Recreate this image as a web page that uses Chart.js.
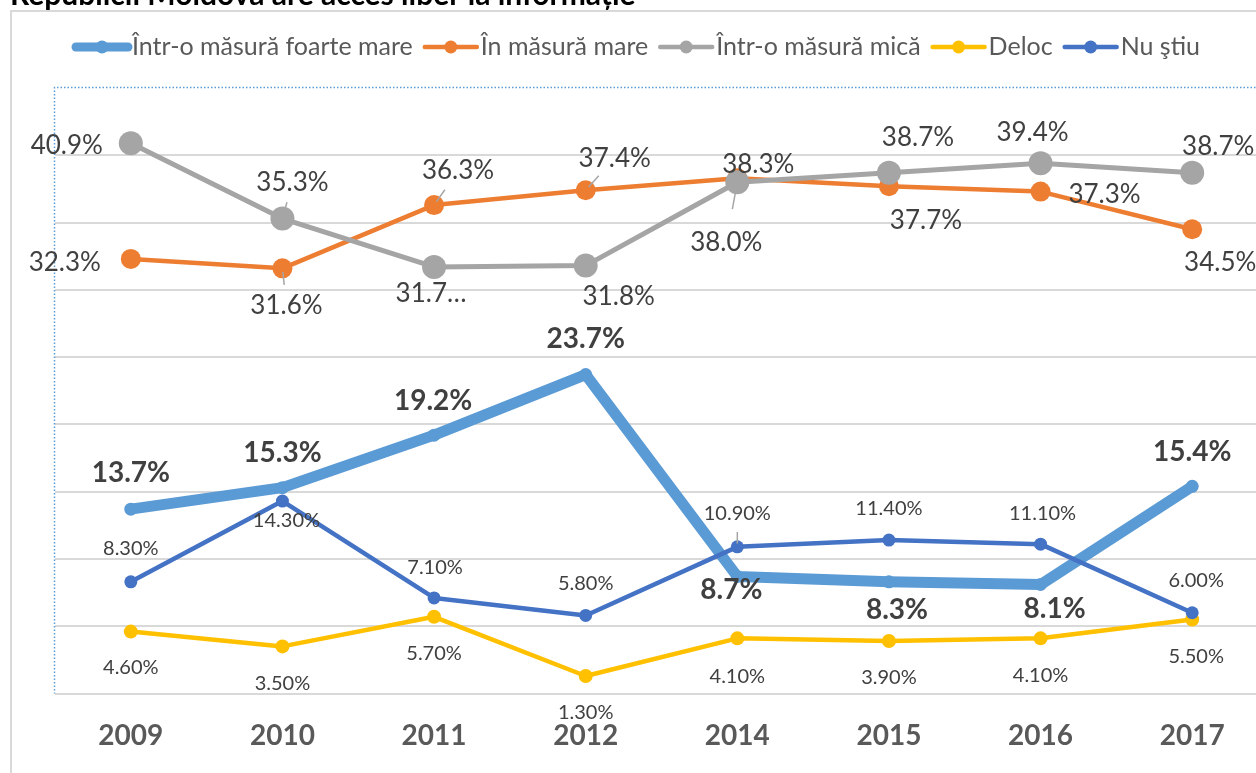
<!DOCTYPE html>
<html>
<head>
<meta charset="utf-8">
<script src="https://cdn.jsdelivr.net/npm/chart.js@4.4.1/dist/chart.umd.min.js"></script>
<style>
  html, body { margin: 0; padding: 0; background: #fff; overflow: hidden; }
  #wrap { width: 1280px; height: 773px; }
</style>
</head>
<body>
<div id="wrap"><canvas id="myChart" width="1280" height="773"></canvas></div>
<script>
const titlu = "Republicii Moldova are acces liber la informație";
const ani = ["2009", "2010", "2011", "2012", "2014", "2015", "2016", "2017"];
const foarteMare = [13.7, 15.3, 19.2, 23.7, 8.7, 8.3, 8.1, 15.4];
const masuraMare = [32.3, 31.6, 36.3, 37.4, 38.3, 37.7, 37.3, 34.5];
const masuraMica = [40.9, 35.3, 31.7, 31.8, 38.0, 38.7, 39.4, 38.7];
const deloc = [4.6, 3.5, 5.7, 1.3, 4.1, 3.9, 4.1, 5.5];
const nuStiu = [8.3, 14.3, 7.1, 5.8, 10.9, 11.4, 11.1, 6.0];
const yMin = 0, yMax = 45, yPas = 5;

// unde stau etichetele fata de punct (dx, dy) si ce etichete au linie de legatura
const posFoarteMare = [[0, -36], [0, -35], [-1, -34], [0, -36], [-6, 14], [8, 28], [14, 24], [0, -34]];
const posMare = [[-66, 4], [4, 37], [24, -34], [29, -32], [21, -14], [37, 34], [64, 3], [28, 33]];
const posMica = [[-64, 2], [10, -36], [-3, 27], [33, 31], [-11, 60], [29, -35], [-8, -31], [26, -26]];
const posDeloc = [[0, 36], [0, 37], [0, 37], [0, 37], [0, 38], [0, 37], [0, 37], [4, 37]];
const posNuStiu = [[0, -33], [4, 19], [1, -30], [0, -32], [0, -33], [0, -32], [2, -31], [4, -32]];

let grapharea = document.getElementById("myChart").getContext("2d");

function serie(label, data, culoare, grosime, raza, ordine, extra) {
  return Object.assign({
    label: label,
    data: data,
    borderColor: culoare,
    backgroundColor: culoare,
    borderWidth: grosime,
    pointRadius: raza,
    pointHoverRadius: raza,
    pointBorderWidth: 0,
    pointBackgroundColor: culoare,
    borderCapStyle: "round",
    borderJoinStyle: "round",
    tension: 0,
    fill: false,
    order: ordine,
  }, extra);
}

const datasets = [
  serie("Într-o măsură foarte mare", foarteMare, "#5b9bd5", 11, 6.5, 5, {
    pos: posFoarteMare, font: "bold 28px Lato", fmt: (v) => v.toFixed(1) + "%",
    legendW: 9, legendR: 6.5,
  }),
  serie("În măsură mare", masuraMare, "#ed7d31", 4.5, 10, 4, {
    pos: posMare, font: "26px Lato", fmt: (v) => v.toFixed(1) + "%", leader: [1, 2, 3],
    legendW: 4.5, legendR: 6.5,
  }),
  serie("Într-o măsură mică", masuraMica, "#a5a5a5", 5, 12, 3, {
    pos: posMica, font: "26px Lato", leader: [1, 4],
    fmt: (v, i) => (i === 2 ? "31.7…" : v.toFixed(1) + "%"),
    legendW: 4.5, legendR: 6.5,
  }),
  serie("Deloc", deloc, "#ffc000", 4.5, 7, 2, {
    pos: posDeloc, font: "20px Lato", fmt: (v) => v.toFixed(2) + "%",
    legendW: 4.5, legendR: 6.5,
  }),
  serie("Nu ştiu", nuStiu, "#4472c4", 4.5, 6.5, 1, {
    pos: posNuStiu, font: "20px Lato", fmt: (v) => v.toFixed(2) + "%", leader: [4],
    legendW: 4.5, legendR: 6.5,
  }),
];

const decor = {
  id: "decor",
  beforeDraw(chart) {
    const ctx = chart.ctx;
    ctx.save();
    ctx.fillStyle = "#fff";
    ctx.fillRect(0, 0, chart.width, chart.height);
    // chenarul exterior
    ctx.strokeStyle = "#d9d9d9";
    ctx.lineWidth = 2;
    ctx.strokeRect(11, 11, chart.width + 20, chart.height + 20);
    // titlul, taiat sus
    ctx.fillStyle = "#000";
    ctx.font = "bold 30px Lato";
    ctx.textBaseline = "alphabetic";
    ctx.fillText(titlu, 10, 5);
    ctx.restore();
  },
  beforeDatasetsDraw(chart) {
    const ctx = chart.ctx;
    const a = chart.chartArea;
    ctx.save();
    ctx.strokeStyle = "#5b9bd5";
    ctx.lineWidth = 1.5;
    ctx.setLineDash([1.5, 2]);
    ctx.beginPath();
    ctx.moveTo(a.right + 5, a.top - 0.5);
    ctx.lineTo(a.left - 0.5, a.top - 0.5);
    ctx.lineTo(a.left - 0.5, a.bottom);
    ctx.stroke();
    ctx.restore();
  },
  afterDatasetsDraw(chart) {
    const ctx = chart.ctx;
    ctx.save();
    chart.data.datasets.forEach((ds, k) => {
      const meta = chart.getDatasetMeta(k);
      meta.data.forEach((pt, i) => {
        const [dx, dy] = ds.pos[i];
        if (ds.leader && ds.leader.includes(i)) {
          ctx.strokeStyle = "#a6a6a6";
          ctx.lineWidth = 1.5;
          ctx.beginPath();
          ctx.moveTo(pt.x + dx * 0.1, pt.y + dy * 0.1);
          ctx.lineTo(pt.x + dx * 0.45, pt.y + dy * 0.45);
          ctx.stroke();
        }
        ctx.font = ds.font;
        ctx.fillStyle = "#404040";
        ctx.textAlign = "center";
        ctx.textBaseline = "middle";
        ctx.fillText(ds.fmt(ds.data[i], i), pt.x + dx, pt.y + dy);
      });
    });
    ctx.restore();
  },
  afterDraw(chart) {
    // legenda
    const ctx = chart.ctx;
    ctx.save();
    ctx.font = "25px Lato";
    ctx.textBaseline = "middle";
    ctx.textAlign = "left";
    let x = 74;
    const y = 47;
    chart.data.datasets.forEach((ds) => {
      ctx.strokeStyle = ds.borderColor;
      ctx.lineWidth = ds.legendW;
      ctx.lineCap = "round";
      ctx.beginPath();
      ctx.moveTo(x + 2, y);
      ctx.lineTo(x + 54, y);
      ctx.stroke();
      ctx.fillStyle = ds.borderColor;
      ctx.beginPath();
      ctx.arc(x + 28, y, ds.legendR, 0, Math.PI * 2);
      ctx.fill();
      x += 58;
      ctx.fillStyle = "#595959";
      ctx.fillText(ds.label, x, y);
      x += ctx.measureText(ds.label).width + 10;
    });
    ctx.restore();
  },
};

const config = {
  type: "line",
  data: { labels: ani, datasets: datasets },
  options: {
    responsive: false,
    animation: false,
    events: [],
    layout: { padding: { left: 55, top: 88, right: 12, bottom: 0 } },
    plugins: { legend: { display: false }, tooltip: { enabled: false } },
    scales: {
      x: {
        offset: true,
        grid: { display: false, drawTicks: false },
        border: { display: false },
        ticks: {
          color: "#595959",
          font: { family: "Lato", size: 28, weight: "bold" },
          padding: 26,
          maxRotation: 0,
        },
        afterFit(s) { s.height = 79.5; },
      },
      y: {
        min: yMin,
        max: yMax,
        ticks: { stepSize: yPas, display: false },
        grid: {
          color: (c) => (c.tick && c.tick.value === yMax ? "rgba(0,0,0,0)" : "#d9d9d9"),
          lineWidth: 2,
          drawTicks: false,
        },
        border: { display: false },
        afterFit(s) { s.width = 0; },
      },
    },
  },
  plugins: [decor],
};

let myChart = new Chart(grapharea, config);
</script>
</body>
</html>
